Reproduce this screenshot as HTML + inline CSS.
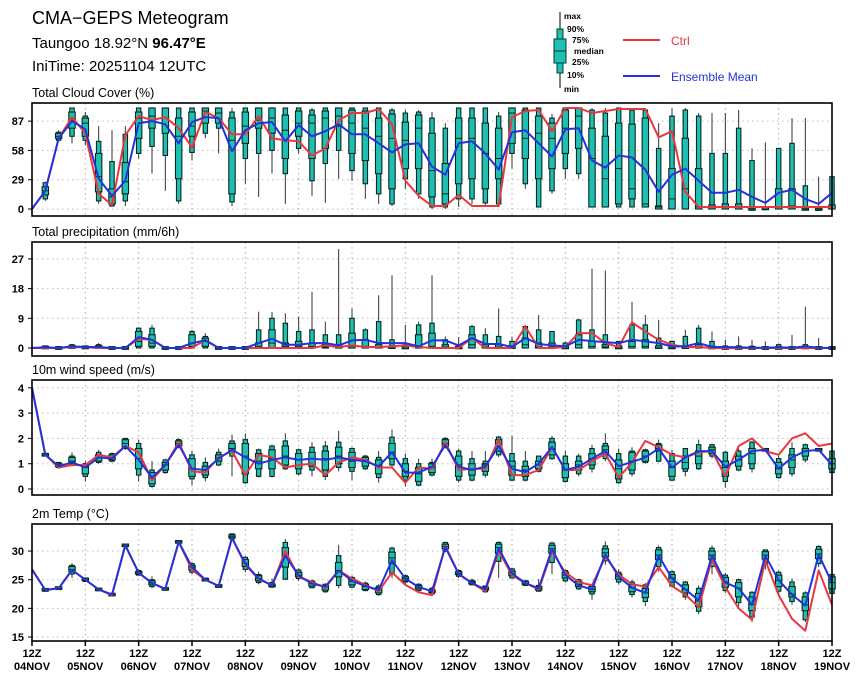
<!DOCTYPE html>
<html><head><meta charset="utf-8"><style>
body{margin:0;background:#fff;width:860px;height:678px;overflow:hidden}
svg{display:block;font-family:"Liberation Sans",sans-serif}
</style></head><body>
<svg id="c" width="860" height="678">
<g>
<text x="32" y="24" font-size="18">CMA−GEPS Meteogram</text>
<text x="32" y="48" font-size="15">Taungoo 18.92°N <tspan font-weight="bold">96.47°E</tspan></text>
<text x="32" y="71" font-size="15">IniTime: 20251104 12UTC</text>
</g>
<g font-size="8.5" font-weight="bold">
<line x1="560" y1="12" x2="560" y2="88" stroke="#000"/>
<rect x="557" y="29" width="6" height="44" fill="#1fbfb4" stroke="#0a3a30"/>
<rect x="554" y="39" width="12" height="24" fill="#1fbfb4" stroke="#0a3a30"/>
<line x1="554" y1="51" x2="566" y2="51" stroke="#0a3a30"/>
<text x="564" y="19">max</text><text x="567" y="32">90%</text><text x="572" y="43">75%</text>
<text x="574" y="54">median</text><text x="572" y="65">25%</text><text x="567" y="78">10%</text><text x="564" y="92">min</text>
<line x1="623" y1="40" x2="660" y2="40" stroke="#e8383d" stroke-width="2"/>
<text x="671" y="45" fill="#e8383d" font-size="12" font-weight="normal">Ctrl</text>
<line x1="623" y1="76" x2="660" y2="76" stroke="#2233dd" stroke-width="2"/>
<text x="671" y="81" fill="#2233dd" font-size="12" font-weight="normal">Ensemble Mean</text>
</g>
</svg>
<script>
// ===== Cloud cover (%) =====
const cloudMin=[0,8,68,65,63,5,2,3,50,35,18,5,48,70,55,3,25,12,35,5,55,13,6,30,28,10,5,3,20,10,0,0,2,5,3,2,40,20,2,15,30,30,2,2,2,2,2,0,0,0,0,0,0,0,0,0,0,0,0,0,0];
const cloudP10=[0,10,68,72,68,8,3,8,55,62,53,8,56,75,80,7,50,55,58,35,60,28,45,58,38,25,15,5,30,15,2,2,10,10,6,5,55,25,2,18,40,35,2,2,2,2,2,0,0,0,0,0,0,0,0,0,0,0,0,0,0];
const cloudP25=[0,14,70,80,72,17,5,15,70,80,75,30,72,85,85,15,65,80,75,50,72,50,60,82,55,48,35,20,40,40,12,5,25,30,20,30,65,50,30,40,55,60,2,2,5,10,2,0,0,0,0,0,0,0,0,0,0,0,0,0,0];
const cloudMed=[0,18,72,88,85,32,12,27,90,92,90,72,82,97,95,68,82,88,90,78,85,85,90,92,85,80,72,70,68,80,38,15,70,70,55,50,95,70,75,70,80,92,50,30,40,20,5,2,10,20,2,0,0,0,0,0,2,3,0,0,0];
const cloudP75=[0,22,75,96,90,55,20,46,96,100,100,90,96,100,100,90,96,100,100,93,97,93,97,100,98,97,90,94,86,93,75,45,90,90,85,80,100,98,92,85,98,100,80,72,85,84,90,3,40,70,40,4,5,5,0,1,20,20,0,0,4];
const cloudP90=[0,26,76,100,92,67,47,74,100,100,100,100,100,100,100,96,100,100,100,100,100,98,100,100,100,100,100,98,95,96,90,80,100,100,100,92,100,100,100,90,100,100,98,95,100,98,98,60,92,98,92,55,55,80,48,2,60,65,23,0,32];
const cloudMax=[0,27,78,100,96,82,78,82,100,100,100,100,100,100,100,100,100,100,100,100,100,100,100,100,100,100,100,100,98,98,96,85,100,100,100,96,100,100,100,94,100,100,100,100,100,100,100,85,100,100,95,95,95,98,60,66,60,90,90,32,34];
const cloudCtrl=[0,18,70,91,75,15,4,73,92,88,91,80,61,96,90,74,74,92,70,68,67,53,60,88,95,95,99,84,28,13,3,3,14,3,3,3,91,97,98,77,100,100,95,97,99,99,99,71,77,17,2,2,2,2,2,2,2,2,2,2,2];
const cloudMean=[0,18,70,87,79,30,13,28,85,87,84,65,86,91,90,57,78,85,86,67,83,72,77,84,74,74,65,56,64,65,42,34,65,67,55,39,76,78,65,52,79,80,48,41,53,51,39,17,34,40,28,16,16,19,12,6,16,19,10,5,16];
const cloudTicks=[0,29,58,87];
// ===== Precipitation (mm/6h) =====
const precMin=new Array(61).fill(0);
const precP10=new Array(61).fill(0);
const precP25=[0,0,0,0,0,0,0,0,0.5,0.5,0,0,0.5,0.5,0,0,0,0,0,0,0,0,0,0,0,0,0,0,0,0,0,0,0,0,0,0,0,0,0,0,0,0,0,0,0,0,0,0,0,0,0,0,0,0,0,0,0,0,0,0,0];
const precMed=[0,0.1,0,0.2,0.1,0.2,0,0,2,1.5,0,0,1.5,2,0,0,0,0.5,1.5,0.5,0.5,0.5,0.3,0.3,0.5,0.5,0.3,0,0,0.5,0.5,0.3,0,1,0.3,0.3,0,1,0.3,0.3,0,1,0.5,0.3,0,0.5,0.5,0,0,0,0.3,0,0,0,0,0,0,0,0,0,0];
const precP75=[0,0.3,0,0.6,0.3,0.6,0,0,5,4,0,0,4,3,0,0,0,1.5,5.5,1.5,2,1.5,1,1,4.5,2.5,1,0.5,0.3,4,4.5,1,0.3,4,1,1,0.5,3,1.5,1.5,0.3,4,2,1,0.3,2,2.5,0.5,0.3,0.5,1,0.3,0,0,0,0,0,0,0.3,0,0];
const precP90=[0,0.5,0,1,0.5,1,0,0,6,6,0,0,5,3.5,0,0,0,5.5,9,7.5,5,5.5,4,4,9,5.5,8,2.5,1,7,7.5,2.5,1,6.5,4,3.5,2,6.5,5.5,5,1.5,8.5,5.5,4,2,7,7,3,2,3.5,6,2,0.5,0.5,0.3,0,1,0,1,0,0];
const precMax=[0,0.6,0.1,1.2,0.8,1.5,0,0,6.2,7,0,0,5.5,4.5,0,0,0.2,11,11,10.5,9.5,17,8,30,12,6,16,22,7,8,22,3.5,3.3,7,6,12,3.5,7,10,5,2,8.8,24,23.5,2,14,10,8.5,2.3,5.5,7,5,2.5,3.5,2.5,2,1.3,4,12.5,3,0];
const precCtrl=[0,0,0,0.3,0.2,0,0,0,2.8,2.5,0,0,0,2.5,0,0,0,0,0,0,0,0,0.8,0.3,0.8,0.3,0.3,0.5,0.8,0.3,0,0,0,3,0,0,0,6.5,0,0,0.3,4.5,4.5,1.5,0.3,7.8,5,2.5,1,0.3,0.3,0,0,0,0,0,0,0,0,0,0];
const precMean=[0,0.2,0,0.5,0.3,0.3,0,0,3.3,2.5,0,0,1.5,2.3,0,0,0,1.5,2.8,1,1,1.5,1.5,0.8,2.3,2.5,1.5,1.5,1.5,0.5,2.3,2.3,0.8,3,1.2,1.2,0.3,3,1.2,0.8,0.5,2.5,2.1,1.8,1.5,2.5,2,1.5,0.5,0.5,1.5,0.3,0.3,0.2,0.1,0.1,0.2,0.1,0.5,0.1,0];
const precTicks=[0,9,18,27];
// ===== 10m wind speed (m/s) =====
const windMin=[4,1.3,0.8,0.9,0.3,1,1.05,1.55,0.3,0.05,0.6,1.6,0.15,0.3,0.9,0.5,0.2,0.45,0.45,0.75,0.55,0.5,0.35,0.7,0.35,0.75,0.25,0.85,0.1,0.1,0.5,1.6,0.25,0.3,0.45,1.25,0.3,0.3,0.65,1.15,0.25,0.5,0.65,1.1,0.2,0.5,1,1.05,0.3,0.5,0.75,1.2,0.05,0.7,0.65,1.5,0.4,0.5,1.05,1.5,0.6];
const windP10=[4,1.32,0.85,0.95,0.5,1.05,1.1,1.6,0.55,0.1,0.65,1.65,0.4,0.45,0.95,1.3,0.25,0.5,0.5,0.8,0.6,0.75,0.5,0.85,0.7,0.8,0.45,0.95,0.35,0.15,0.55,1.65,0.35,0.35,0.55,1.35,0.35,0.35,0.7,1.2,0.3,0.6,0.8,1.2,0.25,0.6,1.05,1.1,0.35,0.7,0.8,1.3,0.3,0.75,0.8,1.5,0.45,0.6,1.15,1.5,0.65];
const windP25=[4,1.33,0.88,1,0.6,1.1,1.15,1.65,0.8,0.2,0.75,1.7,0.5,0.55,1.1,1.5,0.6,0.8,0.8,0.95,0.8,0.9,0.75,1,0.85,0.9,0.6,1.2,0.5,0.3,0.65,1.7,0.5,0.55,0.7,1.5,0.55,0.5,0.8,1.35,0.45,0.75,0.95,1.4,0.4,0.75,1.1,1.5,0.5,0.8,1,1.4,0.5,0.9,1,1.52,0.6,0.85,1.3,1.52,0.8];
const windMed=[4,1.35,0.95,1.1,0.85,1.25,1.25,1.8,1.2,0.45,0.95,1.8,0.8,0.75,1.25,1.6,1.3,1.1,1.2,1.3,1.15,1.2,1.2,1.3,1.1,1.15,0.9,1.45,0.7,0.6,0.85,1.8,0.95,0.8,0.95,1.7,0.9,0.75,0.95,1.6,0.75,0.95,1.2,1.55,0.8,1.1,1.3,1.6,0.85,1.05,1.3,1.55,0.85,1.15,1.4,1.55,0.8,1.15,1.5,1.55,1];
const windP75=[4,1.37,1,1.25,0.95,1.35,1.35,1.95,1.6,0.65,1.05,1.9,1.2,0.9,1.35,1.8,1.8,1.4,1.55,1.7,1.4,1.45,1.5,1.65,1.45,1.25,1.15,1.8,1,0.85,1,1.95,1.3,1,1,1.95,1.1,0.9,1.1,1.85,1,1.1,1.4,1.7,1.15,1.45,1.5,1.75,1.1,1.3,1.5,1.65,1.1,1.3,1.6,1.58,1.05,1.35,1.6,1.58,1.2];
const windP90=[4,1.4,1.05,1.3,1,1.45,1.4,2,1.8,0.75,1.15,1.95,1.35,1.05,1.45,1.9,1.95,1.55,1.7,1.9,1.55,1.65,1.7,1.85,1.6,1.3,1.25,2.05,1.2,1,1.05,2,1.5,1.2,1.1,2.05,1.4,1.1,1.3,2,1.3,1.3,1.6,1.8,1.4,1.5,1.55,1.8,1.4,1.6,1.75,1.75,1.45,1.5,1.85,1.6,1.2,1.6,1.75,1.6,1.5];
const windMax=[4,1.4,1.05,1.45,1.1,1.55,1.45,2,1.95,1.1,1.2,2,1.5,1.25,1.6,2.15,2.2,1.6,1.75,2.2,1.6,1.85,1.9,2.3,1.65,1.35,1.5,2.35,1.4,1.2,1.2,2.05,1.6,1.5,1.5,2.1,2.1,1.5,1.3,2.1,1.5,1.4,1.75,2.2,1.6,1.65,1.6,1.95,1.55,1.6,1.95,1.8,1.5,1.6,1.9,1.6,1.3,1.85,1.8,1.6,1.6];
const windCtrl=[4,1.35,0.85,0.95,0.95,1.35,1.25,1.7,1.45,0.35,0.95,1.85,0.7,0.65,1.25,1.5,0.55,1.35,1.25,0.85,0.95,1,0.55,1.05,1.25,1.15,0.85,0.85,0.25,0.85,0.8,1.85,0.75,0.8,0.8,1.95,0.55,0.55,0.75,1.65,0.75,0.75,1.1,1.4,0.45,1.05,1.9,1.65,1.35,1.25,1.45,1.5,0.5,1.7,2,1.5,1.35,2,2.2,1.7,1.8];
const windMean=[4,1.35,0.9,1.05,0.85,1.25,1.2,1.7,1.15,0.45,0.95,1.75,0.8,0.75,1.2,1.55,1.25,1,1.15,1.25,1.15,1.2,1.15,1.25,1.15,1.1,0.9,1.45,0.65,0.65,0.88,1.74,0.88,0.75,0.88,1.7,0.8,0.67,1,1.66,0.75,0.88,1.2,1.5,0.9,1.07,1.25,1.6,0.85,1.25,1.5,1.5,0.88,1.16,1.5,1.55,0.8,1.25,1.5,1.55,0.95];
const windTicks=[0,1,2,3,4];
// ===== 2m Temperature (°C) =====
const tempMin=[26.8,23.1,23.4,25.3,24.6,23,22.2,30.8,25.7,23.5,23.2,31.3,26,24.8,23.7,31.9,26.3,24.2,23.6,24.9,24.8,23.5,22.7,23.5,23.5,23,22.2,25.3,24.3,23,22.4,29.8,25.3,24,22.7,25.3,25.2,23.9,22.9,26,24.5,23.2,21.5,27.6,24.2,21.9,20.4,26.4,23.6,21.5,19,26,22.7,20.3,17.6,26.8,22.4,20.6,17.6,27.2,22];
const tempP10=[26.8,23.1,23.4,26,24.7,23.1,22.2,30.8,25.8,23.8,23.3,31.4,26.3,24.9,23.7,32.1,26.8,24.5,23.7,25.1,25.2,23.6,22.9,24,23.7,23.1,22.4,26,24.6,23.1,22.5,30,25.6,24.1,22.9,28.2,25.3,24,23,28,24.8,23.4,22.5,28.3,24.6,22.4,21.2,27.3,23.9,22,19.5,27.3,23.1,21,18.5,27.8,23,21.2,18,27.8,22.6];
const tempP25=[26.8,23.2,23.5,26.4,24.9,23.2,22.3,30.9,26,24.1,23.3,31.5,26.7,24.9,23.8,32.3,27.3,24.8,23.8,27.2,25.5,23.9,23.2,25.5,24.1,23.3,22.7,27.8,24.8,23.4,22.8,30.4,25.9,24.3,23.2,29.6,25.7,24.2,23.2,29.6,25.3,23.8,22.9,29,25.1,22.9,21.9,28.5,24.6,22.7,20.3,28.5,23.7,22,19.6,28.6,23.8,22,19.6,28.7,23.4];
const tempMed=[26.8,23.2,23.5,26.8,25,23.3,22.4,31,26.2,24.4,23.4,31.6,27.2,25,23.9,32.5,27.9,25.2,24,29,25.8,24.3,23.7,26.6,24.7,23.8,23.2,28.8,25.2,23.7,23,30.8,26.1,24.5,23.4,30.6,26.1,24.4,23.5,30.4,25.8,24.2,23.3,29.7,25.6,23.6,22.7,29.3,25.3,23.3,21.3,29.3,24.6,23.5,20.7,29.3,24.9,22.5,20.6,29.5,24.5];
const tempP75=[26.8,23.3,23.6,27.3,25.2,23.4,22.5,31.1,26.4,24.8,23.5,31.7,27.5,25.1,24,32.8,28.5,25.7,24.2,30.6,26.3,24.6,24,28,25.1,24.2,23.6,29.8,25.5,24,23.2,31.2,26.4,24.7,23.7,31.2,26.5,24.7,23.8,31,26.3,24.7,23.8,30.4,26,24.2,23.5,30.2,25.9,24.1,22.6,30,25.4,24.5,22,29.9,25.8,23.8,22,30.3,25.5];
const tempP90=[26.8,23.3,23.6,27.5,25.3,23.5,22.6,31.2,26.6,25,23.5,31.8,27.8,25.2,24.1,33,28.9,25.9,24.5,31.5,26.7,24.8,24.2,29.2,25.4,24.4,23.9,30.5,25.7,24.2,23.5,31.5,26.6,24.9,23.9,31.5,26.9,24.8,24,31.4,26.6,25,24.1,30.9,26.3,24.6,24.1,30.6,26.4,24.6,23.5,30.5,25.8,25,22.8,30.2,26.3,24.6,22.7,30.8,25.9];
const tempMax=[26.8,23.4,23.7,27.9,25.4,23.6,22.6,31.2,26.8,25.6,23.6,31.9,28.1,25.2,24.2,33,29.1,26.4,25.2,32.1,27,25,24.4,31.1,25.7,24.7,24.2,30.8,25.9,24.4,23.8,31.6,26.8,25.2,24,31.7,27.1,25,25.1,31.6,26.8,25.2,24.2,31.7,26.8,25,24.4,31,26.6,24.8,24,31,26.2,25.2,23,30.3,26.6,25.2,23,31,26];
const tempCtrl=[26.8,23.2,23.5,26.7,25,23.3,22.3,31,26.2,24.4,23.4,31.6,26.7,25,23.9,32.3,27.6,25.1,24,30,25.5,24.6,23.6,26.6,25.2,24.1,23,26.3,24.1,22.8,22.3,30.9,26,24.4,23,30,25.8,24.4,23.3,29.9,26.3,24.6,24,29,25.9,24.2,23.8,27.2,23.9,22.4,20.2,28.6,23.7,20,18,28.4,22.3,18.2,16.1,26.6,20.6];
const tempMean=[26.8,23.2,23.5,26.7,25,23.3,22.4,31,26.2,24.4,23.4,31.6,27.2,25,23.9,32.3,27.8,25.2,24,29.2,25.7,24.3,23.8,26.6,24.8,23.9,23.2,28.4,25.2,23.7,23,30.7,26,24.4,23.3,30.5,26.1,24.4,23.5,30.4,25.8,24,23.3,29.4,25.5,23.6,22.7,29.2,25.2,23.3,21.4,29.2,24.5,23.5,20.6,29.2,24.9,22.4,20.5,29.4,24.4];
const tempTicks=[15,20,25,30];
const dayLabels=["04NOV","05NOV","06NOV","07NOV","08NOV","09NOV","10NOV","11NOV","12NOV","13NOV","14NOV","15NOV","16NOV","17NOV","18NOV","19NOV"];

const NS="http://www.w3.org/2000/svg";
const svg=document.getElementById('c');
const X0=32,X1=832;
function xAt(i){return X0+(X1-X0)*i/60;}
function mk(tag,attrs,parent){const e=document.createElementNS(NS,tag);for(const k in attrs)e.setAttribute(k,attrs[k]);parent.appendChild(e);return e;}

const panels=[
 {key:'cloud',title:'Total Cloud Cover (%)',top:103,bot:216,y0:209,vmin:0,scale:1.01,ticks:cloudTicks,
  mn:cloudMin,p10:cloudP10,p25:cloudP25,md:cloudMed,p75:cloudP75,p90:cloudP90,mx:cloudMax,ctrl:cloudCtrl,mean:cloudMean},
 {key:'precip',title:'Total precipitation (mm/6h)',top:242,bot:356,y0:348,vmin:0,scale:3.3,ticks:precTicks,
  mn:precMin,p10:precP10,p25:precP25,md:precMed,p75:precP75,p90:precP90,mx:precMax,ctrl:precCtrl,mean:precMean},
 {key:'wind',title:'10m wind speed (m/s)',top:380,bot:495,y0:489,vmin:0,scale:25.3,ticks:windTicks,
  mn:windMin,p10:windP10,p25:windP25,md:windMed,p75:windP75,p90:windP90,mx:windMax,ctrl:windCtrl,mean:windMean},
 {key:'temp',title:'2m Temp (°C)',top:524,bot:641,y0:637,vmin:15,scale:5.73,ticks:tempTicks,
  mn:tempMin,p10:tempP10,p25:tempP25,md:tempMed,p75:tempP75,p90:tempP90,mx:tempMax,ctrl:tempCtrl,mean:tempMean}
];

panels.forEach(p=>{
  const y=v=>p.y0-(v-p.vmin)*p.scale;
  const g=mk('g',{},svg);
  
  
  const t=mk('text',{x:32,y:p.top-6,'font-size':12.5},g);
  t.textContent=p.title;
  
  
  for(let d=1;d<15;d++){
    const l=mk('line',{x1:xAt(d*4),x2:xAt(d*4),y1:p.top,y2:p.bot,stroke:'#aaa','stroke-dasharray':'1.5,3.5'},g);
    
    
  }
  p.ticks.forEach(v=>{
    const yy=y(v);
    const l=mk('line',{x1:X0,x2:X1,y1:yy,y2:yy,stroke:'#bbb','stroke-dasharray':'1.5,3.5'},g);
    
    
    const tk=mk('line',{x1:X0-4,x2:X0,y1:yy,y2:yy,stroke:'#000'},g);
    
    
    const tl=mk('text',{x:X0-8,y:yy+4,'font-size':11,'font-weight':'bold','text-anchor':'end'},g);
    tl.textContent=v;
    
    
  });
  for(let i=1;i<=60;i++){
    const x=xAt(i);
    const bg=mk('g',{},g);
    
    
    mk('line',{x1:x,x2:x,y1:y(p.mn[i]),y2:y(p.mx[i]),stroke:'#333','stroke-width':1},bg);
    let h1=y(p.p10[i])-y(p.p90[i]);
    const y1=h1<2.5?(y(p.p10[i])+y(p.p90[i]))/2-1.25:y(p.p90[i]);
    h1=Math.max(2.5,h1);
    mk('rect',{x:x-2.2,y:y1,width:4.4,height:h1,fill:'#1fbfb4',stroke:'#06291f','stroke-width':1.1},bg);
    let h2=y(p.p25[i])-y(p.p75[i]);
    const y2=h2<2.5?(y(p.p25[i])+y(p.p75[i]))/2-1.25:y(p.p75[i]);
    h2=Math.max(2.5,h2);
    mk('rect',{x:x-3.2,y:y2,width:6.4,height:h2,fill:'#1fbfb4',stroke:'#06291f','stroke-width':1.1},bg);
    mk('line',{x1:x-3.2,x2:x+3.2,y1:y(p.md[i]),y2:y(p.md[i]),stroke:'#06291f','stroke-width':1},bg);
  }
  const ctrlPts=p.ctrl.map((v,i)=>xAt(i).toFixed(1)+','+y(v).toFixed(1)).join(' ');
  const cl=mk('polyline',{points:ctrlPts,fill:'none',stroke:'#e8383d','stroke-width':2,'stroke-linejoin':'round'},g);
  
  
  const meanPts=p.mean.map((v,i)=>xAt(i).toFixed(1)+','+y(v).toFixed(1)).join(' ');
  const ml=mk('polyline',{points:meanPts,fill:'none',stroke:'#2233dd','stroke-width':2,'stroke-linejoin':'round'},g);
  
  
  const fr=mk('rect',{x:X0,y:p.top,width:X1-X0,height:p.bot-p.top,fill:'none',stroke:'#000','stroke-width':1.6},g);
  
  
});
const xg=mk('g',{},svg);


dayLabels.forEach((d,k)=>{
  const x=xAt(k*4);
  mk('line',{x1:x,x2:x,y1:641,y2:646,stroke:'#000','stroke-width':1.5},xg);
  const a=mk('text',{x:x,y:657,'font-size':11,'font-weight':'bold','text-anchor':'middle'},xg);
  a.textContent='12Z';
  
  
  const b=mk('text',{x:x,y:670,'font-size':11,'font-weight':'bold','text-anchor':'middle'},xg);
  b.textContent=d;
  
  
});
</script>
</body></html>
